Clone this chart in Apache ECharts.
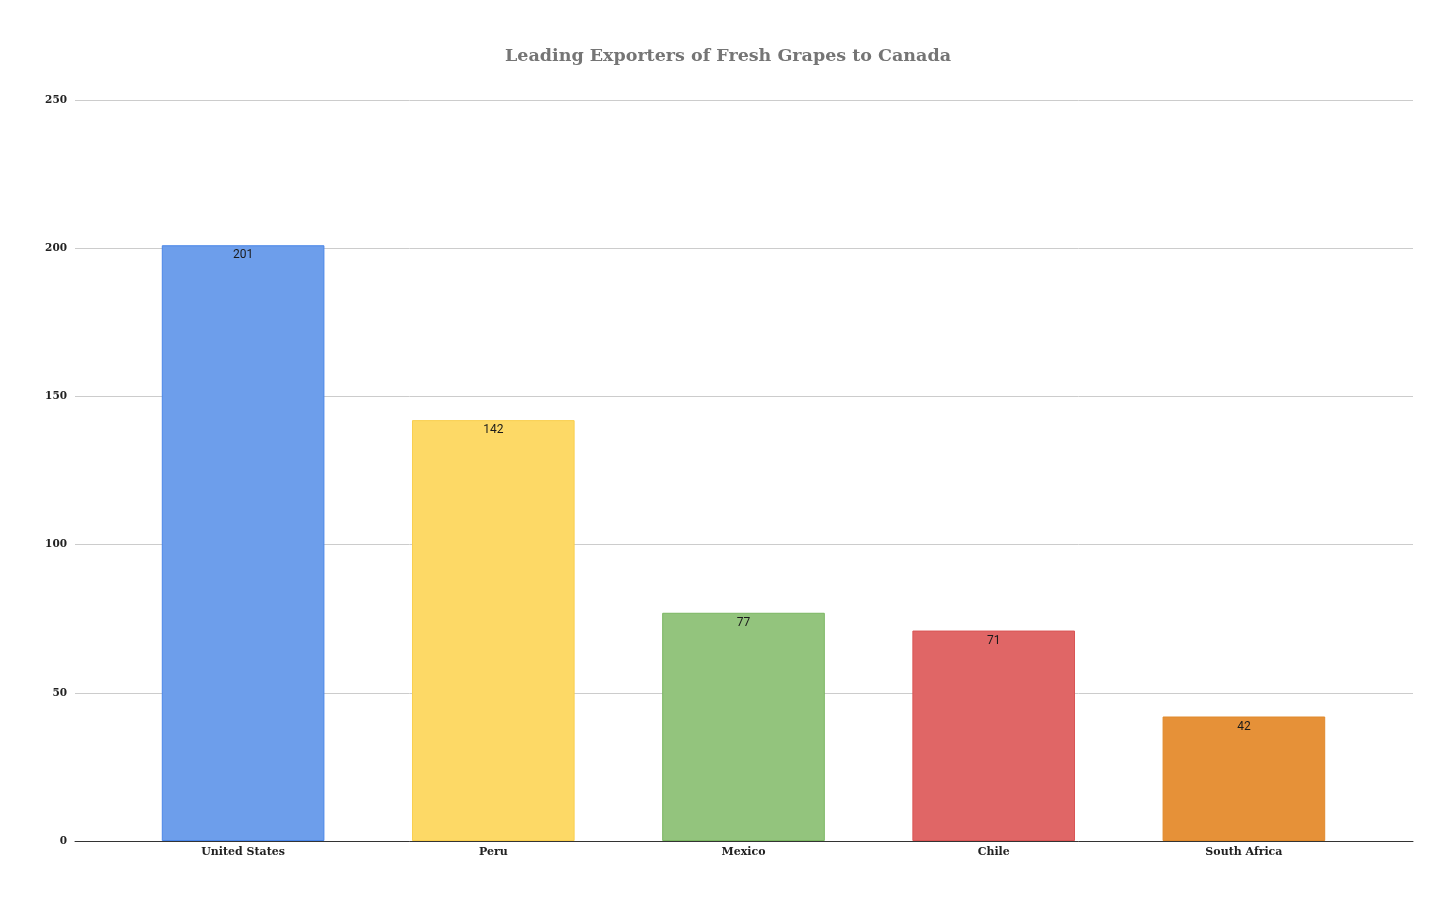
<!DOCTYPE html>
<html>
<head>
<meta charset="utf-8">
<script src="https://cdn.jsdelivr.net/npm/echarts@6/dist/echarts.min.js"></script>
<style>
  html, body { margin: 0; padding: 0; background: #fff; }
  #chart { width: 1456px; height: 904px; }
</style>
</head>
<body>
<div id="chart"></div>
<script>
const countries = ['United States', 'Peru', 'Mexico', 'Chile', 'South Africa']
const exports = [201, 142, 77, 71, 42]
const barColors = ['#6d9eeb', '#fdd966', '#93c47d', '#e06666', '#e69138']
const borderColors = ['#4a86e8', '#f9cf4f', '#7bb662', '#d95555', '#e08a2c']

const serif = '"DejaVu Serif", "Liberation Serif", serif'

const chart = echarts.init(document.getElementById('chart'), null, { renderer: 'canvas' })

chart.setOption({
  animation: false,
  backgroundColor: '#ffffff',
  title: {
    text: 'Leading Exporters of Fresh Grapes to Canada',
    left: 'center',
    top: 42,
    textStyle: { fontFamily: serif, fontWeight: 'bold', fontSize: 17.5, color: '#757575' }
  },
  grid: [
    { left: 75, right: 43, top: 100, bottom: 63 },
    { left: 118, right: 87, top: 100, bottom: 63 }
  ],
  xAxis: [
    {
      type: 'value', gridIndex: 0, min: 0, max: 1,
      axisLine: { show: true, onZero: false, lineStyle: { color: '#333', width: 1 } },
      axisTick: { show: false }, axisLabel: { show: false }, splitLine: { show: false }
    },
    {
      type: 'category', gridIndex: 1, data: countries,
      axisLine: { show: false }, axisTick: { show: false },
      axisLabel: { margin: 6, fontFamily: serif, fontWeight: 'bold', fontSize: 11, color: '#222' }
    }
  ],
  yAxis: [
    {
      type: 'value', gridIndex: 0, min: 0, max: 250, interval: 50,
      axisLine: { show: false }, axisTick: { show: false },
      axisLabel: { margin: 8, fontFamily: serif, fontWeight: 'bold', fontSize: 10.5, color: '#222' },
      splitLine: { lineStyle: { color: '#cccccc', width: 1 } }
    },
    {
      type: 'value', gridIndex: 1, min: 0, max: 250, interval: 50,
      axisLine: { show: false }, axisTick: { show: false },
      axisLabel: { show: false }, splitLine: { show: false }
    }
  ],
  series: [{
    type: 'bar',
    xAxisIndex: 1,
    yAxisIndex: 1,
    barWidth: '65%',
    data: exports.map((v, i) => ({
      value: v,
      itemStyle: { color: barColors[i], borderColor: borderColors[i], borderWidth: 1 }
    })),
    label: {
      show: true,
      position: 'insideTop',
      distance: 4,
      fontFamily: 'Roboto, sans-serif',
      fontSize: 12,
      color: '#1a1a1a'
    }
  }]
})
</script>
</body>
</html>
